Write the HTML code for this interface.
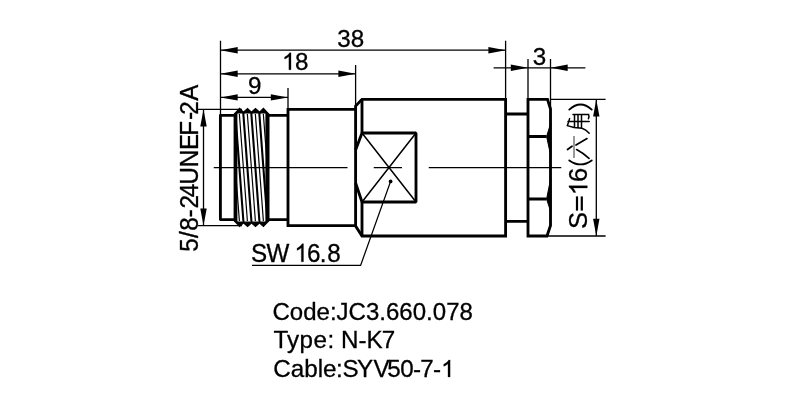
<!DOCTYPE html>
<html><head><meta charset="utf-8">
<style>
html,body{margin:0;padding:0;background:#fff;width:800px;height:400px;overflow:hidden}
svg{display:block;will-change:transform}
text{font-family:"Liberation Sans",sans-serif;fill:#000;stroke:#000;stroke-width:0.3;font-size:24.2px}
</style></head>
<body>
<svg width="800" height="400" viewBox="0 0 800 400">
<defs>
  <clipPath id="thr"><path d="M234.8 114.4L239.6 109.3L243.5 113L247.6 109.3L251.5 113L255.5 109.3L259.5 113L263.4 109.3L268.3 114.4V220.6L263.4 225.6L259.5 222L255.5 225.6L251.5 222L247.6 225.6L243.5 222L239.6 225.6L234.8 220.6Z"/></clipPath>
</defs>
<g fill="none" stroke="#000" stroke-width="1.3" stroke-linecap="butt">
  <!-- extension lines -->
  <path d="M220.5 40.8V115 M505.6 40.8V99.4 M355.6 65V106 M288 88V109 M528 59V99.4 M550.5 59V109"/>
  <!-- dimension lines -->
  <path d="M220.5 50.2H505.6 M220.5 73.8H355.6 M220.5 97.4H288 M493.6 67.8H585.4"/>
  <!-- left vertical dim -->
  <path d="M198 109.4H242 M198 225.6H242 M203.5 109.4V225.6"/>
  <!-- right vertical dim -->
  <path d="M550 99.4H605.6 M547 236H605.6 M596.3 99.4V236"/>
  <!-- leader -->
  <path d="M390.6 181.4L360.6 265.4H252"/>
</g>
<g fill="#000" stroke="none">
  <polygon points="220.5,50.2 237.7,47 237.7,53.4"/>
  <polygon points="505.6,50.2 488.4,47 488.4,53.4"/>
  <polygon points="220.5,73.8 237.7,70.6 237.7,77"/>
  <polygon points="355.6,73.8 338.4,70.6 338.4,77"/>
  <polygon points="220.5,97.4 237.7,94.2 237.7,100.6"/>
  <polygon points="288,97.4 270.8,94.2 270.8,100.6"/>
  <polygon points="528,67.8 510.8,64.6 510.8,71"/>
  <polygon points="550.5,67.8 567.7,64.6 567.7,71"/>
  <polygon points="203.5,109.4 200.3,126.6 206.7,126.6"/>
  <polygon points="203.5,225.6 200.3,208.4 206.7,208.4"/>
  <polygon points="596.3,99.4 593.1,116.6 599.5,116.6"/>
  <polygon points="596.3,236 593.1,218.8 599.5,218.8"/>
  <circle cx="390.6" cy="181.4" r="1.9"/>
</g>
<!-- outlines -->
<g fill="none" stroke="#000" stroke-width="2.85" stroke-linejoin="miter">
  <path stroke-linejoin="round" d="M236 115.3H220.4V219.6H236 M268 115.3H288 M268 219.6H288"/>
  <path d="M288 109.4H355.6V225.6H288Z"/>
  <path d="M355.6 109.4V106L362 99.3H505.6V236H362L355.6 226V225.6"/>
  <path d="M362 99.3V133 M362 202V236"/>
  <path d="M355.6 150L362 133H416V202H362L355.6 183" stroke-linejoin="bevel"/>
  <path d="M505.6 114H528 M505.6 221.4H528"/>
  <path d="M528 99.4H547.5L550.5 109V225.5L547 236H528Z"/>
  <path d="M528 136.5H546.5 M528 199H546.5"/>
</g>
<g fill="none" stroke="#000" stroke-width="1.5">
  <path d="M416 133L362 202 M362 133L416 202"/>
</g>
<g fill="#000" stroke="#000" stroke-width="1" stroke-linejoin="round">
  <polygon points="546.6,136.5 550.8,123 550.8,156"/>
  <polygon points="546.6,199 550.8,178 550.8,212"/>
</g>
<!-- threads -->
<path fill="#fff" stroke="#000" stroke-width="2.4" stroke-linejoin="miter" d="M234.8 114.4L239.6 109.3L243.5 113L247.6 109.3L251.5 113L255.5 109.3L259.5 113L263.4 109.3L268.3 114.4V220.6L263.4 225.6L259.5 222L255.5 225.6L251.5 222L247.6 225.6L243.5 222L239.6 225.6L234.8 220.6Z"/>
<g clip-path="url(#thr)" stroke="#000" fill="none">
  <path stroke-width="2.1" d="M219.35 114L227.38 221 M227.35 114L235.38 221 M235.35 114L243.38 221 M243.35 114L251.38 221 M251.35 114L259.38 221 M259.35 114L267.38 221 M267.35 114L275.38 221"/>
  <path stroke-width="1.2" d="M223.35 114L231.38 221 M231.35 114L239.38 221 M239.35 114L247.38 221 M247.35 114L255.38 221 M255.35 114L263.38 221 M263.35 114L271.38 221 M271.35 114L279.38 221"/>
</g>
<g fill="#000">
  <polygon points="236.6,113.6 239.6,109.3 242.6,113.6"/>
  <polygon points="244.6,113.6 247.6,109.3 250.6,113.6"/>
  <polygon points="252.5,113.6 255.5,109.3 258.5,113.6"/>
  <polygon points="260.4,113.6 263.4,109.3 266.4,113.6"/>
  <polygon points="236.6,221.4 239.6,225.6 242.6,221.4"/>
  <polygon points="244.6,221.4 247.6,225.6 250.6,221.4"/>
  <polygon points="252.5,221.4 255.5,225.6 258.5,221.4"/>
  <polygon points="260.4,221.4 263.4,225.6 266.4,221.4"/>
  <rect x="234" y="113" width="3.4" height="109"/>
  <rect x="265.4" y="113" width="3.2" height="109"/>
</g>
<path fill="none" stroke="#000" stroke-width="1.3" d="M213.75 167.6H347.5 M373.75 167.6H402 M428.75 167.6H561.25"/>
<!-- CJK glyphs (rotated) -->
<g fill="none" stroke="#000" stroke-linecap="round">
  <path stroke-width="1.9" d="M569.3 109.6Q580.5 99.6 591.7 109.6"/>
  <path stroke-width="1.9" d="M569.3 160.4Q580.5 168.4 591.7 160.4"/>
  <path stroke-width="1.5" d="M573 114.5H588.6Q589.4 116.5 588.4 118.8 M568 121.6H589.2 M574.5 114.5V127.5 M578 114.5V128 M581.5 114.5V128 M567.2 125.6L574 127.5L582 128.2Q586 129.5 589.2 133.2 M569.6 118.6L567.6 125"/>
  <path stroke-width="1.1" stroke="#444" d="M574 136.5V157.5"/>
  <path stroke-width="1.7" d="M567.5 149.5L572 146.2 M576 145L587 138.6 M576.6 149.6Q583 153 589 158.4"/>
</g>
<!-- texts -->
<g fill="#000"><rect x="575.9" y="196.4" width="2.2" height="14.2"/><rect x="580.7" y="196.4" width="2.2" height="14.2"/></g>
<g transform="translate(0,46.7)"><text x="337.28" y="0">38</text></g>
<g transform="translate(0,69.8)"><text x="295.0" y="0">8</text></g>
<path d="M763 0L583 0L583 1147Q518 1085 412 1023Q306 961 221 930L221 1104Q372 1175 485 1276Q598 1377 645 1472L763 1472Z" transform="translate(282.0,69.8) scale(0.011816,-0.01155)" stroke="#000" stroke-width="25"/>
<g transform="translate(0,94.1)"><text x="247.92" y="0">9</text></g>
<g transform="translate(0,64.8)"><text x="532.68" y="0">3</text></g>
<g transform="translate(0,261.8) scale(1,1.04)"><text x="251.1 266.39" y="0">SW</text><text x="307.07 319.84 327.25" y="0">6.8</text></g>
<path d="M763 0L583 0L583 1147Q518 1085 412 1023Q306 961 221 930L221 1104Q372 1175 485 1276Q598 1377 645 1472L763 1472Z" transform="translate(294.44,261.8) scale(0.011816,-0.012289)" stroke="#000" stroke-width="25"/>
<g transform="translate(197.9,252.1) rotate(-90) scale(1,1.04)"><text x="0.33 14.0 21.25 34.72 43.58 54.74 67.63 84.81 102.01 116.31 132.22 137.28 151.25" y="0">5/8-24UNEF-2A</text></g>
<g transform="translate(587.3,229) rotate(-90)"><text x="0.0" y="0" style="font-size:25.5px">S</text><text x="47.0" y="0" style="font-size:25.5px">6</text>
<path d="M763 0L583 0L583 1147Q518 1085 412 1023Q306 961 221 930L221 1104Q372 1175 485 1276Q598 1377 645 1472L763 1472Z" transform="translate(33.8,0) scale(0.012451,-0.012451)" stroke="#000" stroke-width="24"/></g>
<g transform="translate(272.5,319.8) scale(0.993,1)"><text x="0" y="0">Code:JC3.660.078</text></g>
<g transform="translate(0,348.1)"><text x="273.5 286.93 299.5 313.5 327.4" y="0">Type:</text><text x="341.0 358.4 366.5 381.8" y="0">N-K7</text></g>
<g transform="translate(0,377)"><text x="273.37 290.77 304.24 317.67 323.07 335.89 342.6 357.0 373.6 387.2 400.35 412.97 420.31 432.97" y="0">Cable:SYV50-7-</text></g>
<path d="M763 0L583 0L583 1147Q518 1085 412 1023Q306 961 221 930L221 1104Q372 1175 485 1276Q598 1377 645 1472L763 1472Z" transform="translate(441.1,377) scale(0.011816,-0.01155)" stroke="#000" stroke-width="25"/>
</svg>
</body></html>
